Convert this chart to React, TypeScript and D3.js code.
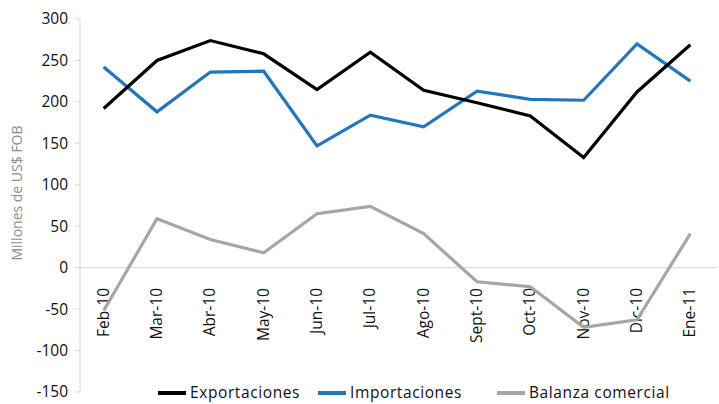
import React, { useEffect, useRef } from 'react';
import * as d3 from 'd3';

const months = ['Feb-10', 'Mar-10', 'Abr-10', 'May-10', 'Jun-10', 'Jul-10', 'Ago-10', 'Sept-10', 'Oct-10', 'Nov-10', 'Dic-10', 'Ene-11'];
const exportaciones = [192, 250, 274, 258, 215, 260, 214, 199, 183, 133, 212, 269];
const importaciones = [242, 188, 236, 237, 147, 184, 170, 213, 203, 202, 270, 225];
const balanza = [-52, 59, 34, 18, 65, 74, 41, -17, -23, -72, -63, 41];
const yTicks = [300, 250, 200, 150, 100, 50, 0, -50, -100, -150];

const seriesList = [
  { name: 'Exportaciones', values: exportaciones, color: '#000000' },
  { name: 'Importaciones', values: importaciones, color: '#2476bb' },
  { name: 'Balanza comercial', values: balanza, color: '#a6a6a6' },
];

const FONT = '"Open Sans", sans-serif';

const App = () => {
  const svgRef = useRef<SVGSVGElement>(null);

  useEffect(() => {
    const width = 719;
    const height = 404;
    const svg = d3.select(svgRef.current);
    svg.selectAll('*').remove();
    svg.attr('width', width).attr('height', height);

    const x = d3.scalePoint<string>().domain(months).range([77, 717]).padding(0.5);
    const y = d3.scaleLinear().domain([-150, 300]).range([392, 19]);

    // axis line and zero line
    svg.append('line')
      .attr('x1', 80).attr('x2', 80)
      .attr('y1', y(300)).attr('y2', y(-150))
      .style('stroke', '#d4d4d4').style('stroke-width', 1);
    svg.append('line')
      .attr('x1', 80).attr('x2', 716)
      .attr('y1', y(0)).attr('y2', y(0))
      .style('stroke', '#d4d4d4').style('stroke-width', 1);

    // y ticks
    const yt = svg.selectAll('.ytick').data(yTicks).enter().append('g').attr('class', 'ytick');
    yt.append('line')
      .attr('x1', 75).attr('x2', 80)
      .attr('y1', d => y(d)).attr('y2', d => y(d))
      .style('stroke', '#d4d4d4');
    yt.append('text')
      .attr('x', 68).attr('y', d => y(d)).attr('dy', '0.35em')
      .attr('text-anchor', 'end')
      .style('font-family', FONT).style('font-size', '15.5px').style('fill', '#111')
      .text(d => d);

    // y title
    svg.append('text')
      .attr('transform', `translate(22,193) rotate(-90)`)
      .attr('text-anchor', 'middle')
      .style('font-family', FONT).style('font-size', '14px').style('fill', '#8c8c8c')
      .text('Millones de US$ FOB');

    // x labels
    svg.selectAll('.xlab').data(months).enter().append('text')
      .attr('class', 'xlab')
      .attr('transform', d => `translate(${x(d)! + 5},288) rotate(-90)`)
      .attr('text-anchor', 'end')
      .style('font-family', FONT).style('font-size', '15.5px').style('fill', '#111')
      .text(d => d);

    // lines
    const line = d3.line<number>()
      .x((d, i) => x(months[i])!)
      .y(d => y(d));

    [...seriesList].reverse().forEach(s => {
      svg.append('path')
        .datum(s.values)
        .attr('d', line)
        .style('fill', 'none')
        .style('stroke', s.color)
        .style('stroke-width', 3.2)
        .style('stroke-linejoin', 'miter');
    });

    // legend
    const legendX = [158, 318, 497];
    const lg = svg.selectAll('.leg').data(seriesList).enter().append('g')
      .attr('class', 'leg')
      .attr('transform', (d, i) => `translate(${legendX[i]},393)`);
    lg.append('line')
      .attr('x1', 0).attr('x2', 28).attr('y1', 0).attr('y2', 0)
      .style('stroke', d => d.color).style('stroke-width', 4);
    lg.append('text')
      .attr('x', 32).attr('y', 0).attr('dy', '0.35em')
      .style('font-family', FONT).style('font-size', '15.5px').style('fill', '#111')
      .style('letter-spacing', '0.6px')
      .text(d => d.name);
  }, []);

  return <svg ref={svgRef} style={{ position: 'absolute', left: 0, top: 0 }}></svg>;
};

export default App;
